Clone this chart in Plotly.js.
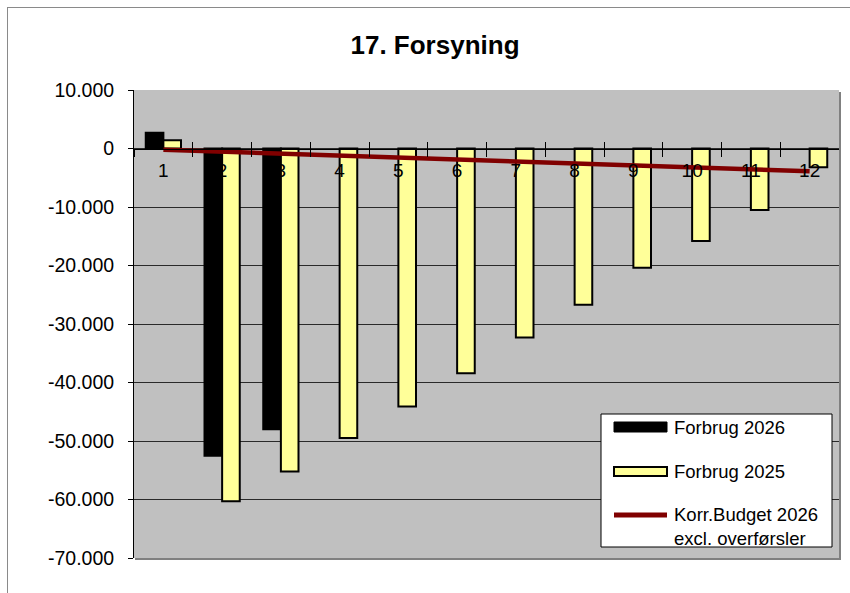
<!DOCTYPE html>
<html>
<head>
<meta charset="utf-8">
<script src="https://cdn.plot.ly/plotly-3.0.1.min.js"></script>
<style>
  html, body { margin: 0; padding: 0; background: #fff; }
  #wrap { position: relative; width: 850px; height: 593px; overflow: hidden; }
  #chart { width: 850px; height: 593px; }
  #frame { position: absolute; left: 7px; top: 7px; width: 1000px; height: 1000px;
           border-left: 1px solid #8a8a8a; border-top: 1px solid #8a8a8a; pointer-events: none; }
</style>
</head>
<body>
<div id="wrap"><div id="chart"></div><div id="frame"></div></div>
<script>
// ---- data ----
const months = ['1','2','3','4','5','6','7','8','9','10','11','12'];
const forbrug2026 = [2700, -52500, -48000];
const forbrug2025 = [1400, -60300, -55200, -49500, -44100, -38400, -32300, -26700, -20400, -15800, -10500, -3200];
const korrBudget2026 = [-200, -550, -900, -1200, -1550, -1900, -2200, -2550, -2900, -3200, -3550, -3900];
const seriesNames = ['Forbrug 2026', 'Forbrug 2025', 'Korr.Budget 2026<br>excl. overførsler'];
const yTickVals = [10000, 0, -10000, -20000, -30000, -40000, -50000, -60000, -70000];
const yTickLabels = ['10.000', '0', '-10.000', '-20.000', '-30.000', '-40.000', '-50.000', '-60.000', '-70.000'];
const chartTitle = '17. Forsyning';

// ---- styles ----
const colBlack = '#000000';
const colYellow = '#FFFF99';
const colRed = '#800000';
const FONT = 'Liberation Sans, Arial, sans-serif';

// plot area in pixels
const L = 134, R = 839, T = 90, B = 558;
const W = 850, H = 593;
const px = x => (x - L) / (R - L);
const py = y => (B - y) / (B - T);

const traces = [
  { type: 'bar', name: seriesNames[0], x: months.slice(0, forbrug2026.length), y: forbrug2026,
    marker: { color: colBlack, line: { color: '#000', width: 2 } }, showlegend: false },
  { type: 'bar', name: seriesNames[1], x: months, y: forbrug2025,
    marker: { color: colYellow, line: { color: '#000', width: 2 } }, showlegend: false },
  { type: 'scatter', mode: 'lines', name: seriesNames[2], x: months, y: korrBudget2026,
    line: { color: colRed, width: 4.5 }, showlegend: false },
  { type: 'scatter', mode: 'lines', x: months, y: months.map(() => null), xaxis: 'x2',
    showlegend: false, hoverinfo: 'skip' }
];

const zeroPos = (0 - (-70000)) / (10000 - (-70000));

// custom legend
const shapes = [
  // plot area shadow
  { type: 'line', xref: 'paper', yref: 'paper', x0: px(L + 1), x1: px(R + 2), y0: py(B + 1), y1: py(B + 1),
    line: { color: '#808080', width: 2 } },
  { type: 'line', xref: 'paper', yref: 'paper', x0: px(R + 1), x1: px(R + 1), y0: py(T + 2), y1: py(B + 1),
    line: { color: '#808080', width: 2 } },
  // legend box
  { type: 'rect', xref: 'paper', yref: 'paper', x0: px(601), x1: px(832), y0: py(547), y1: py(414),
    fillcolor: '#ffffff', line: { color: '#000', width: 1 } },
  { type: 'rect', xref: 'paper', yref: 'paper', x0: px(614), x1: px(667), y0: py(432), y1: py(422),
    fillcolor: colBlack, line: { color: '#000', width: 1 } },
  { type: 'rect', xref: 'paper', yref: 'paper', x0: px(614), x1: px(667), y0: py(476), y1: py(467),
    fillcolor: colYellow, line: { color: '#000', width: 2 } },
  { type: 'line', xref: 'paper', yref: 'paper', x0: px(614), x1: px(667), y0: py(515), y1: py(515),
    line: { color: colRed, width: 5 } }
];

const annotations = [
  { xref: 'paper', yref: 'paper', x: px(672), y: py(427), xanchor: 'left', yanchor: 'middle',
    text: seriesNames[0], showarrow: false, font: { family: FONT, size: 18.5, color: '#000' } },
  { xref: 'paper', yref: 'paper', x: px(672), y: py(471), xanchor: 'left', yanchor: 'middle',
    text: seriesNames[1], showarrow: false, font: { family: FONT, size: 18.5, color: '#000' } },
  { xref: 'paper', yref: 'paper', x: px(672), y: py(526), xanchor: 'left', yanchor: 'middle', align: 'left',
    text: seriesNames[2], showarrow: false, font: { family: FONT, size: 18.5, color: '#000' } }
];

const layout = {
  width: W, height: H,
  margin: { l: L, r: W - R, t: T, b: H - B, pad: 0 },
  paper_bgcolor: '#ffffff',
  plot_bgcolor: '#C0C0C0',
  font: { family: FONT, size: 19, color: '#000' },
  title: { text: '<b>' + chartTitle + '</b>', xref: 'container', yref: 'container',
           x: 435 / W, y: 1 - 45 / H, xanchor: 'center', yanchor: 'middle',
           font: { family: FONT, size: 26, color: '#000' } },
  barmode: 'group', bargap: 0.4, bargroupgap: 0,
  showlegend: false,
  xaxis: {
    type: 'category', categoryorder: 'array', categoryarray: months, range: [-0.5, 11.5],
    anchor: 'free', position: zeroPos,
    showline: true, linecolor: '#000', linewidth: 1,
    ticks: 'outside', ticklen: 7, tickwidth: 1, tickcolor: '#000', tickson: 'boundaries',
    showgrid: false, zeroline: false,
    tickfont: { family: FONT, size: 19, color: '#000' }, ticklabelstandoff: 5
  },
  xaxis2: {
    type: 'category', categoryorder: 'array', categoryarray: months, range: [-0.5, 11.5],
    overlaying: 'x', anchor: 'free', position: zeroPos,
    showline: false, ticks: 'inside', ticklen: 7, tickwidth: 1, tickcolor: '#000', tickson: 'boundaries',
    showticklabels: false, showgrid: false, zeroline: false
  },
  yaxis: {
    range: [-70000, 10000], tickmode: 'array', tickvals: yTickVals, ticktext: yTickLabels,
    showline: true, linecolor: '#000', linewidth: 1,
    ticks: 'outside', ticklen: 5, tickcolor: '#000',
    showgrid: true, gridcolor: '#2a2a2a', gridwidth: 1, zeroline: false,
    tickfont: { family: FONT, size: 19.5, color: '#000' }, ticklabelstandoff: 10
  },
  shapes: shapes,
  annotations: annotations
};

Plotly.newPlot('chart', traces, layout, { staticPlot: true, displayModeBar: false });
</script>
</body>
</html>
